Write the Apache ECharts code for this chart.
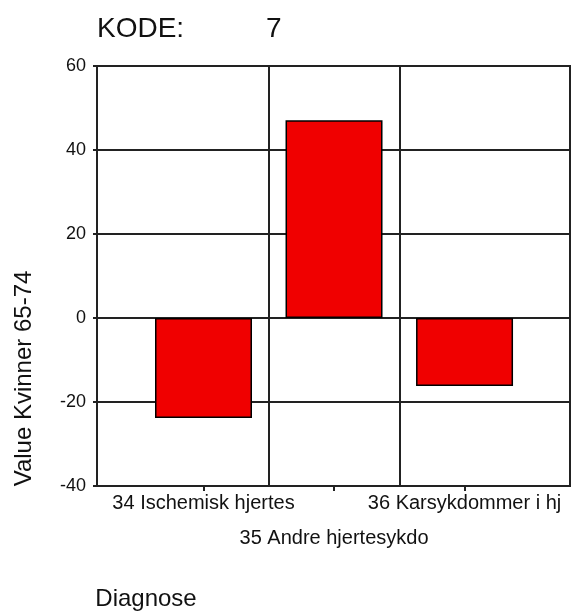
<!DOCTYPE html>
<html>
<head>
<meta charset="utf-8">
<script src="https://cdn.jsdelivr.net/npm/echarts@6/dist/echarts.min.js"></script>
<style>
  html, body { margin: 0; padding: 0; background: #fff; }
  #chart { width: 571px; height: 616px; }
</style>
</head>
<body>
<div id="chart"></div>
<script>
// ---- data ----
const categories = ['34 Ischemisk hjertes', '35 Andre hjertesykdo', '36 Karsykdommer i hj'];
const positions = [1, 2, 3];
const values = [-23.8, 47.1, -16.2];
const dividers = [1.5, 2.5];
const upperRow = [1, 3];   // labels on first text row
const lowerRow = [2];      // labels on second text row
const yMin = -40, yMax = 60, yStep = 20;
const titleText = 'KODE:';
const kodeValue = '7';
const yAxisTitle = 'Value Kvinner 65-74';
const xAxisTitle = 'Diagnose';

const FONT = '"Liberation Sans", Arial, sans-serif';
const INK = '#111';
const LINE = '#222';
const X_MIN = 0.184, X_MAX = 3.808;

function catLabel(v) {
  const i = positions.indexOf(v);
  return i < 0 ? '' : categories[i];
}

const chart = echarts.init(document.getElementById('chart'), null, { renderer: 'canvas' });

chart.setOption({
  animation: false,
  backgroundColor: '#fff',
  textStyle: { fontFamily: FONT, color: INK },
  title: [
    { text: titleText, left: 97, top: 15, padding: 0,
      textStyle: { fontFamily: FONT, fontSize: 28, fontWeight: 'normal', color: INK } },
    { text: kodeValue, left: 266, top: 15, padding: 0,
      textStyle: { fontFamily: FONT, fontSize: 28, fontWeight: 'normal', color: INK } }
  ],
  grid: {
    left: 97, right: 1, top: 66, bottom: 126,
    show: true, borderColor: LINE, borderWidth: 2, backgroundColor: 'transparent'
  },
  xAxis: [{
    type: 'value',
    min: X_MIN,
    max: X_MAX,
    name: xAxisTitle,
    nameLocation: 'middle',
    nameGap: 101,
    nameTextStyle: { fontFamily: FONT, fontSize: 24, color: INK, padding: [0, 375, 0, 0] },
    axisLine: { show: true, onZero: false, lineStyle: { color: LINE, width: 2 } },
    axisTick: { show: true, customValues: positions, length: 5, lineStyle: { color: LINE, width: 2 } },
    axisLabel: {
      show: true,
      customValues: upperRow,
      hideOverlap: false,
      margin: 7,
      fontFamily: FONT, fontSize: 20, color: INK, lineHeight: 20,
      formatter: catLabel
    },
    splitLine: { show: false }
  }, {
    type: 'value',
    min: X_MIN,
    max: X_MAX,
    position: 'bottom',
    axisLine: { show: false, onZero: false },
    axisTick: { show: false },
    axisLabel: {
      show: true,
      customValues: lowerRow,
      hideOverlap: false,
      margin: 42,
      fontFamily: FONT, fontSize: 20, color: INK, lineHeight: 20,
      formatter: catLabel
    },
    splitLine: { show: false }
  }],
  yAxis: {
    type: 'value',
    min: yMin,
    max: yMax,
    interval: yStep,
    name: yAxisTitle,
    nameLocation: 'middle',
    nameGap: 61,
    nameRotate: 90,
    nameTextStyle: { fontFamily: FONT, fontSize: 24, color: INK, padding: [0, 205, 0, 0] },
    axisLine: { show: true, lineStyle: { color: LINE, width: 2 } },
    axisTick: { show: true, length: 4, lineStyle: { color: LINE, width: 2 } },
    axisLabel: { fontFamily: FONT, fontSize: 18, color: INK, margin: 11 },
    splitLine: { show: true, lineStyle: { color: LINE, width: 2 } }
  },
  series: [{
    type: 'bar',
    xAxisIndex: 0,
    data: categories.map((c, i) => ({ name: c, value: [positions[i], values[i]] })),
    barWidth: 97,
    itemStyle: { color: '#f00000', borderColor: '#000', borderWidth: 1.5 },
    emphasis: { disabled: true },
    markLine: {
      silent: true,
      symbol: 'none',
      label: { show: false },
      emphasis: { disabled: true },
      lineStyle: { color: LINE, width: 2, type: 'solid' },
      data: dividers.map(d => ({ xAxis: d }))
    }
  }]
});
</script>
</body>
</html>
